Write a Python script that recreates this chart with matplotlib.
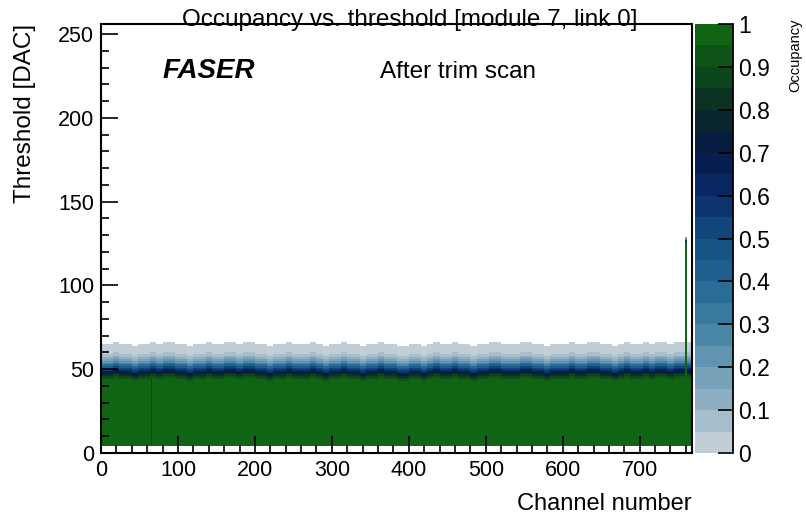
import numpy as np
import matplotlib
matplotlib.use('Agg')
import matplotlib.pyplot as plt
from matplotlib.colors import LinearSegmentedColormap, ListedColormap
from matplotlib.ticker import MultipleLocator

plt.rcParams['font.family'] = ['Liberation Sans', 'DejaVu Sans']

# Scan geometry
n_channels = 768
n_thresholds = 256
scan_start = 4          # first scanned threshold (bins below are empty)

# 50% point of the s-curve, one value per block of 8 channels
block_size = 8
block_mid = [50, 50, 51, 50, 50, 49, 50, 50, 51, 50, 51, 51, 50, 50, 49, 50,
             50, 51, 50, 50, 51, 51, 50, 51, 51, 50, 50, 49, 50, 50, 51, 50,
             50, 50, 51, 50, 49, 50, 50, 51, 50, 50, 49, 50, 50, 51, 50, 50,
             49, 49, 50, 50, 49, 50, 51, 50, 50, 51, 50, 50, 49, 50, 50, 51,
             51, 50, 50, 50, 51, 51, 50, 50, 49, 50, 50, 50, 51, 50, 50, 51,
             51, 50, 50, 49, 50, 51, 50, 50, 51, 50, 51, 51, 50, 51, 51, 51]

# occupancy vs. (threshold - 50% point)
curve_offset = list(range(-8, 15))
curve_occ = [1.0, 0.97, 0.92, 0.86, 0.80, 0.73, 0.65, 0.57, 0.50, 0.42, 0.35,
             0.28, 0.21, 0.15, 0.11, 0.08, 0.06, 0.045, 0.03, 0.02, 0.012,
             0.006, 0.003]

# odd channels
weak_channel = 65
weak_level = 0.88
noisy_channels = [759, 760, 761]
noisy_top = 125
noisy_edge = [0.6, 0.3, 0.15]

# build the 2D map
mids = np.repeat(block_mid, block_size)
occ = np.full((n_thresholds, n_channels), np.nan)
for ch in range(n_channels):
    m = mids[ch]
    occ[scan_start:m + curve_offset[0], ch] = 1.0
    for off, v in zip(curve_offset, curve_occ):
        occ[m + off, ch] = v
occ[scan_start:mids[weak_channel] - 6, weak_channel] = weak_level
for ch in noisy_channels:
    occ[scan_start:noisy_top + 1, ch] = 1.0
    for i, v in enumerate(noisy_edge):
        occ[noisy_top + 1 + i, ch] = v

# ROOT-like palette, 20 contour levels
stops = [(0.00, '#cdd6dd'), (0.10, '#9ab6c8'), (0.20, '#6a9bb5'),
         (0.30, '#3f7fa1'), (0.40, '#226691'), (0.50, '#134e80'),
         (0.60, '#0a2d6a'), (0.70, '#061948'), (0.80, '#0b2a26'),
         (0.90, '#0d4c19'), (1.00, '#116c11')]
grad = LinearSegmentedColormap.from_list('faser', stops)
cmap = ListedColormap([grad((i + 0.5) / 20) for i in range(20)])

fig = plt.figure(figsize=(8.06, 5.19), dpi=100)
ax = fig.add_axes([101 / 806, 1 - 453 / 519, 591 / 806, 429 / 519])
cax = fig.add_axes([695 / 806, 1 - 453 / 519, 38 / 806, 429 / 519])

xedges = np.arange(n_channels + 1)
yedges = np.arange(n_thresholds + 1)
mesh = ax.pcolormesh(xedges, yedges, np.ma.masked_invalid(occ), cmap=cmap,
                     vmin=0, vmax=1, shading='flat', rasterized=True)

ax.set_xlim(0, n_channels)
ax.set_ylim(0, n_thresholds)
ax.xaxis.set_major_locator(MultipleLocator(100))
ax.xaxis.set_minor_locator(MultipleLocator(20))
ax.yaxis.set_major_locator(MultipleLocator(50))
ax.yaxis.set_minor_locator(MultipleLocator(10))
ax.tick_params(which='both', direction='in', top=False, right=False,
               width=1.2, labelsize=15.5, pad=5)
ax.tick_params(which='major', length=12)
ax.tick_params(which='minor', length=6)
for s in ax.spines.values():
    s.set_linewidth(1.5)

ax.set_xlabel('Channel number', fontsize=17, loc='right', labelpad=9)
ax.set_ylabel('Threshold [DAC]', fontsize=17.5, loc='top', labelpad=16)

fig.text(410 / 806, 1 - 26 / 519, 'Occupancy vs. threshold [module 7, link 0]',
         fontsize=17.5, ha='center', va='baseline')
ax.text(163 / 806, 1 - 78 / 519, 'FASER', transform=fig.transFigure,
        fontsize=20, fontweight='bold', fontstyle='italic', va='baseline')
ax.text(380 / 806, 1 - 78 / 519, 'After trim scan', transform=fig.transFigure,
        fontsize=17.5, va='baseline')

cb = fig.colorbar(mesh, cax=cax, ticks=np.arange(0, 1.01, 0.1))
cb.ax.set_yticklabels(['%g' % round(v, 1) for v in np.arange(0, 1.01, 0.1)])
cb.outline.set_visible(False)
cb.ax.tick_params(direction='in', length=11, width=1.2, labelsize=16.5, pad=4)
cb.ax.plot([1, 1], [0, 1], transform=cb.ax.transAxes, color='black',
           lw=1.3, clip_on=False)
fig.text(795 / 806, 1 - 18 / 519, 'Occupancy', rotation=90, fontsize=10.5,
         ha='center', va='top')

fig.savefig('out.png', dpi=100)
